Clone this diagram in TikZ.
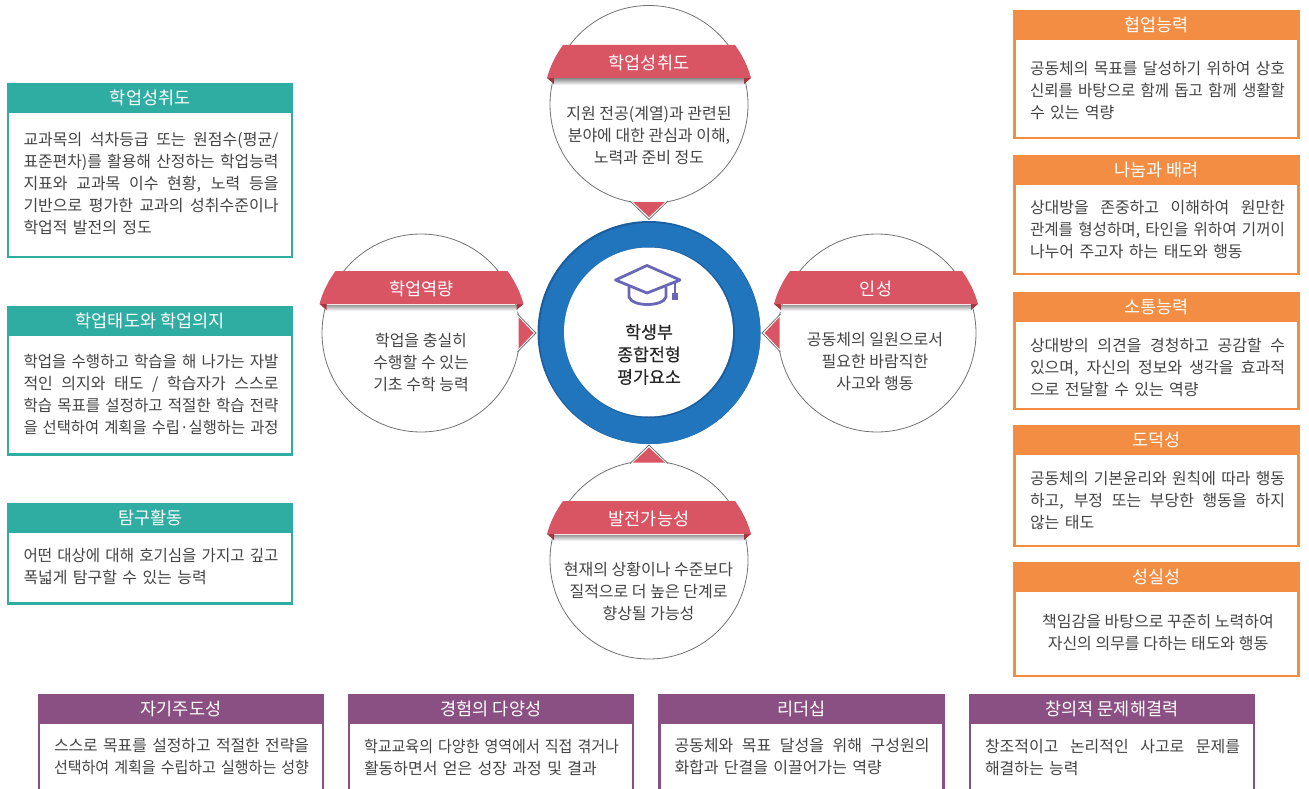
\documentclass[tikz,border=0pt]{standalone}
\usepackage{fontspec}
\setmainfont{Noto Sans CJK KR}
\newfontfamily\medfont[FakeBold=0.25]{Noto Sans CJK KR}
\definecolor{tealc}{HTML}{2FADA2}
\definecolor{orangec}{HTML}{F28D43}
\definecolor{purplec}{HTML}{8B5083}
\definecolor{redc}{HTML}{D95564}
\definecolor{reddark}{HTML}{A5343F}
\definecolor{ringc}{HTML}{2075BC}
\definecolor{ringdark}{HTML}{1C5F9E}
\definecolor{hatc}{HTML}{6A68B6}
\definecolor{bodyc}{HTML}{444444}
\tikzset{
  headbox/.style={rectangle,minimum width=286.5,minimum height=30,inner sep=0,outer sep=0,text=white,text height=14,text depth=0.8,font=\fontsize{17.5}{20}\selectfont},
  framebox/.style={draw,rectangle,line width=2.5,minimum width=284,anchor=north,inner sep=0,outer sep=0},
  bodytext/.style={inner sep=0,yshift=-1,text=bodyc,font=\fontsize{16}{22}\selectfont},
  circbox/.style={draw=black!55,fill=white,circle,line width=0.8,minimum size=198,inner sep=0},
}
\newcommand{\drawheadteal}{\node[headbox,fill=tealc]}
\newcommand{\drawheadorange}{\node[headbox,fill=orangec]}
\newcommand{\drawheadpurple}{\node[headbox,fill=purplec]}
\newcommand{\drawframeteal}{\node[framebox,draw=tealc]}
\newcommand{\drawframeorange}{\node[framebox,draw=orangec]}
\newcommand{\drawframepurple}{\node[framebox,draw=purplec]}
\newcommand{\drawbody}{\node[bodytext,align=left,text width=255]}
\newcommand{\drawcenter}{\node[bodytext,align=center]}
\newcommand{\drawcirc}{\node[circbox]}
% one full line of a box, stretched or squeezed to the box width
\newcommand{\jl}[1]{\sbox0{#1}\ifdim\wd0>255pt \resizebox{255pt}{\ht0}{\usebox0}\else\makebox[255pt][s]{\spaceskip=0.24em plus 1em\relax #1}\fi}
% pointer towards the ring, local frame points down
\newcommand{\drawtip}[2]{
  \begin{scope}[shift={(#1)},rotate=#2]
    \fill[white] (-19,96.5) -- (0,115) -- (19,96.5) -- cycle;
    \draw[black!55,line width=0.8] (-19,96.5) -- (0,115) -- (19,96.5);
    \fill[redc] (-16,97.5) -- (0,112.5) -- (16,97.5) -- cycle;
  \end{scope}
}
% ribbon with its title, #1 is the middle of the top edge
\newcommand{\drawribbon}[3]{
  \begin{scope}[shift={(#1)}]
    \shade[top color=black!40,bottom color=white] (-96,34) rectangle (96,40);
    \fill[reddark] (-102,33) -- (-95,33) -- (-95,39) -- cycle;
    \fill[reddark] (102,33) -- (95,33) -- (95,39) -- cycle;
    \fill[redc] (-86,0) -- (86,0) .. controls (94,11) and (99,22) .. (102,33) -- (-102,33) .. controls (-99,22) and (-94,11) .. (-86,0) -- cycle;
    \node[text=white,inner sep=0,font=\fontsize{17.5}{20}\selectfont] (#2) at (0,17.5) {#3};
  \end{scope}
}
\begin{document}
\begin{tikzpicture}[x=1pt,y=-1pt]
\path[use as bounding box,clip] (0,0) rectangle (1309,789);

%left column
\drawframeteal (f1) at (150.2,112) [minimum height=145] {};
\drawheadteal (h1) at (150.2,98) {학업성취도};
\drawbody (t1) at (151,183) {\jl{교과목의 석차등급 또는 원점수(평균/}\\\jl{표준편차)를 활용해 산정하는 학업능력}\\\jl{지표와 교과목 이수 현황, 노력 등을}\\\jl{기반으로 평가한 교과의 성취수준이나}\\학업적 발전의 정도};
\drawframeteal (f2) at (150.2,335) [minimum height=119.5] {};
\drawheadteal (h2) at (150.2,321) {학업태도와 학업의지};
\drawbody (t2) at (151,393.5) {\jl{학업을 수행하고 학습을 해 나가는 자발}\\\jl{적인 의지와 태도 / 학습자가 스스로}\\\jl{학습 목표를 설정하고 적절한 학습 전략}\\\jl{을 선택하여 계획을 수립·실행하는 과정}};
\drawframeteal (f3) at (150.2,532) [minimum height=71.5] {};
\drawheadteal (h3) at (150.2,518) {탐구활동};
\drawbody (t3) at (151,565.5) {\jl{어떤 대상에 대해 호기심을 가지고 깊고}\\폭넓게 탐구할 수 있는 능력};

%right column
\drawframeorange (f4) at (1156.5,39) [minimum height=99] {};
\drawheadorange (h4) at (1156.5,25) {협업능력};
\drawbody (t4) at (1157.5,89.5) {\jl{공동체의 목표를 달성하기 위하여 상호}\\\jl{신뢰를 바탕으로 함께 돕고 함께 생활할}\\수 있는 역량};
\drawframeorange (f5) at (1156.5,184) [minimum height=90] {};
\drawheadorange (h5) at (1156.5,170) {나눔과 배려};
\drawbody (t5) at (1157.5,229) {\jl{상대방을 존중하고 이해하여 원만한}\\\jl{관계를 형성하며, 타인을 위하여 기꺼이}\\나누어 주고자 하는 태도와 행동};
\drawframeorange (f6) at (1156.5,321) [minimum height=88] {};
\drawheadorange (h6) at (1156.5,307) {소통능력};
\drawbody (t6) at (1157.5,366) {\jl{상대방의 의견을 경청하고 공감할 수}\\\jl{있으며, 자신의 정보와 생각을 효과적}\\으로 전달할 수 있는 역량};
\drawframeorange (f7) at (1156.5,454) [minimum height=92] {};
\drawheadorange (h7) at (1156.5,440) {도덕성};
\drawbody (t7) at (1157.5,499) {\jl{공동체의 기본윤리와 원칙에 따라 행동}\\\jl{하고, 부정 또는 부당한 행동을 하지}\\않는 태도};
\drawframeorange (f8) at (1156.5,591) [minimum height=85] {};
\drawheadorange (h8) at (1156.5,577) {성실성};
\drawcenter (t8) at (1158,632) {책임감을 바탕으로 꾸준히 노력하여\\자신의 의무를 다하는 태도와 행동};

%bottom row
\drawframepurple (f9) at (181,723) [minimum height=80] {};
\drawheadpurple (h9) at (181,709) {자기주도성};
\drawbody (t9) at (181.5,756) {\jl{스스로 목표를 설정하고 적절한 전략을}\\\jl{선택하여 계획을 수립하고 실행하는 성향}};
\drawframepurple (f10) at (491,723) [minimum height=80] {};
\drawheadpurple (h10) at (491,709) {경험의 다양성};
\drawbody (t10) at (491.5,756) {\jl{학교교육의 다양한 영역에서 직접 겪거나}\\활동하면서 얻은 성장 과정 및 결과};
\drawframepurple (f11) at (801.5,723) [minimum height=80] {};
\drawheadpurple (h11) at (801.5,709) {리더십};
\drawbody (t11) at (802,756) {\jl{공동체와 목표 달성을 위해 구성원의}\\화합과 단결을 이끌어가는 역량};
\drawframepurple (f12) at (1112,723) [minimum height=80] {};
\drawheadpurple (h12) at (1112,709) {창의적 문제해결력};
\drawbody (t12) at (1112.5,756) {\jl{창조적이고 논리적인 사고로 문제를}\\해결하는 능력};

%circles
\drawcirc (top) at (649,104.5) {};
\drawcirc (left) at (421,333) {};
\drawcirc (right) at (877,333) {};
\drawcirc (bot) at (649,560) {};
\drawtip{649,104.5}{0}
\drawtip{421,333}{90}
\drawtip{877,333}{-90}
\drawtip{649,560}{180}
\drawribbon{649,45}{rtop}{학업성취도}
\drawribbon{421.5,271}{rleft}{학업역량}
\drawribbon{876,271}{rright}{인성}
\drawribbon{649,501}{rbot}{발전가능성}
\drawcenter (ttop) at (649,134.5) {지원 전공(계열)과 관련된\\분야에 대한 관심과 이해,\\노력과 준비 정도};
\drawcenter (tleft) at (421,361) {학업을 충실히\\수행할 수 있는\\기초 수학 능력};
\drawcenter (tright) at (875,361) {공동체의 일원으로서\\필요한 바람직한\\사고와 행동};
\drawcenter (tbot) at (648.5,590) {현재의 상황이나 수준보다\\질적으로 더 높은 단계로\\향상될 가능성};

%ring
\fill[ringdark] (649,332.5) circle (111.5);
\fill[ringc] (650,333.5) circle (110.5);
\fill[ringdark] (649.5,332.5) circle (85.5);
\fill[white] (648.5,332) circle (84.5);
\draw[hatc,line width=2.8,line join=round] (647,265.5) -- (615.5,280) -- (647,293) -- (680,280) -- cycle;
\draw[hatc,line width=2.8] (629,287) -- (629,297) .. controls (632,307) and (663,307) .. (666,297) -- (666,287);
\draw[hatc,line width=1.6] (680,280) -- (675,283) -- (675,294);
\fill[hatc] (672,293) rectangle (678,300);
\node[inner sep=0,text=black!85,align=center,font=\fontsize{17.3}{22.5}\selectfont\medfont] (ctitle) at (649,354.5) {학생부\\종합전형\\평가요소};
\end{tikzpicture}
\end{document}
